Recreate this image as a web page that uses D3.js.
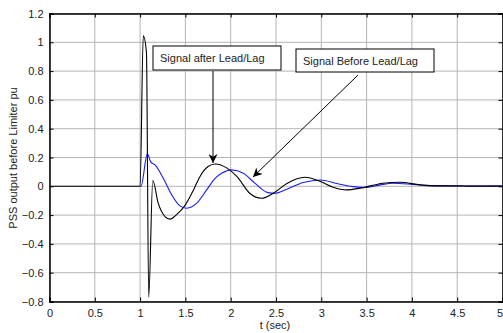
<!DOCTYPE html>
<html>
<head>
<meta charset="utf-8">
<script src="https://cdn.jsdelivr.net/npm/d3@7"></script>
<style>
  body { margin: 0; background: #fff; }
  text { font-family: "Liberation Sans", Arial, sans-serif; }
</style>
</head>
<body>
<svg id="chart"></svg>
<script>
// donnees
const tAfter = [0, 0.5, 1.0, 1.035, 1.07, 1.095, 1.14, 1.2, 1.275, 1.33, 1.4, 1.5, 1.59, 1.66, 1.75, 1.83, 1.96, 2.07, 2.21, 2.34, 2.47, 2.62, 2.82, 2.99, 3.13, 3.28, 3.43, 3.68, 3.87, 4.09, 4.31, 4.55, 4.6, 5.0];
const vAfter = [0, 0, 0, 1.045, 0.93, -0.77, 0.04, -0.117, -0.21, -0.228, -0.198, -0.129, -0.025, 0.067, 0.137, 0.155, 0.126, 0.067, -0.048, -0.083, -0.048, 0.02, 0.063, 0.033, -0.006, -0.025, -0.013, 0.021, 0.028, 0.01, 0.003, 0.003, 0.001, 0.001];

const tBefore = [1.0, 1.01, 1.08, 1.117, 1.165, 1.256, 1.35, 1.44, 1.515, 1.625, 1.735, 1.83, 1.9, 2.01, 2.14, 2.27, 2.41, 2.49, 2.62, 2.8, 2.99, 3.17, 3.35, 3.5, 3.65, 3.79, 3.98, 4.16, 4.35, 4.6, 5.0];
const vBefore = [0, 0, 0.225, 0.17, 0.148, 0.056, -0.06, -0.136, -0.152, -0.117, -0.025, 0.056, 0.09, 0.114, 0.09, 0.02, -0.044, -0.048, -0.02, 0.026, 0.044, 0.02, -0.002, -0.008, 0.01, 0.021, 0.015, 0.005, 0.003, 0.002, 0.001];

const xTicks = [0, 0.5, 1, 1.5, 2, 2.5, 3, 3.5, 4, 4.5, 5];
const yTicks = [-0.8, -0.6, -0.4, -0.2, 0, 0.2, 0.4, 0.6, 0.8, 1, 1.2];

const width = 503, height = 333;
const svg = d3.select("#chart").attr("width", width).attr("height", height);

const x = d3.scaleLinear().domain([0, 5]).range([49.5, 502.5]);
const y = d3.scaleLinear().domain([-0.8, 1.2]).range([301.5, 13.5]);

// grille
svg.append("g").selectAll("line").data(xTicks).join("line")
    .attr("x1", d => x(d)).attr("x2", d => x(d))
    .attr("y1", y(1.2)).attr("y2", y(-0.8))
    .attr("stroke", "#b4b4b4").attr("stroke-width", 1);
svg.append("g").selectAll("line").data(yTicks).join("line")
    .attr("x1", x(0)).attr("x2", x(5))
    .attr("y1", d => y(d)).attr("y2", d => y(d))
    .attr("stroke", "#b4b4b4").attr("stroke-width", 1);

// axes
const xAxis = svg.append("g").attr("transform", `translate(0,${y(-0.8)})`)
    .call(d3.axisBottom(x).tickValues(xTicks).tickSize(-4).tickPadding(8).tickFormat(d3.format("")));
const xTop = svg.append("g").attr("transform", `translate(0,${y(1.2)})`)
    .call(d3.axisTop(x).tickValues(xTicks).tickSize(-4).tickFormat(""));
const yAxis = svg.append("g").attr("transform", `translate(${x(0)},0)`)
    .call(d3.axisLeft(y).tickValues(yTicks).tickSize(-4).tickPadding(6).tickFormat(d3.format("")));
const yRight = svg.append("g").attr("transform", `translate(${x(5)},0)`)
    .call(d3.axisRight(y).tickValues(yTicks).tickSize(-4).tickFormat(""));

[xAxis, xTop, yAxis, yRight].forEach(g => {
    g.select(".domain").attr("stroke", "#000").attr("stroke-width", 1.5);
    g.selectAll(".tick line").attr("stroke", "#000");
    g.selectAll(".tick text").attr("font-size", 11).attr("fill", "#222")
        .style("font-family", "'Liberation Sans', Arial, sans-serif");
});
// le "5" tient dans la fenetre
xAxis.selectAll(".tick text").filter(d => d === 5).attr("text-anchor", "end").attr("dx", "0");

// courbes
const line = d3.line().x(d => x(d[0])).y(d => y(d[1])).curve(d3.curveMonotoneX);
svg.append("path")
    .datum(tBefore.map((t, i) => [t, vBefore[i]]))
    .attr("d", line).attr("fill", "none").attr("stroke", "#1a1aff").attr("stroke-width", 1.1);
svg.append("path")
    .datum(tAfter.map((t, i) => [t, vAfter[i]]))
    .attr("d", line).attr("fill", "none").attr("stroke", "#000").attr("stroke-width", 1.1);

// fleches
svg.append("defs").append("marker")
    .attr("id", "arrow").attr("viewBox", "0 0 10 10")
    .attr("refX", 10).attr("refY", 5)
    .attr("markerWidth", 9).attr("markerHeight", 9).attr("orient", "auto")
    .append("path").attr("d", "M0,0 L10,5 L0,10 L3,5 Z").attr("fill", "#000");

svg.append("line").attr("x1", 213).attr("y1", 71).attr("x2", 213).attr("y2", 163)
    .attr("stroke", "#000").attr("marker-end", "url(#arrow)");
svg.append("line").attr("x1", 358).attr("y1", 75).attr("x2", 253).attr("y2", 177)
    .attr("stroke", "#000").attr("marker-end", "url(#arrow)");

// boites de texte
const boxes = [
    { label: "Signal after Lead/Lag", x0: 153, y0: 46, w: 128, h: 24 },
    { label: "Signal Before Lead/Lag", x0: 296, y0: 49, w: 138, h: 23 }
];
boxes.forEach(b => {
    svg.append("rect").attr("x", b.x0).attr("y", b.y0).attr("width", b.w).attr("height", b.h)
        .attr("fill", "#fff").attr("stroke", "#000").attr("stroke-width", 1);
    svg.append("text").attr("x", b.x0 + 7).attr("y", b.y0 + b.h / 2 + 4)
        .attr("font-size", 11).attr("fill", "#222").text(b.label);
});

// titres des axes
svg.append("text").attr("x", 275).attr("y", 329).attr("text-anchor", "middle")
    .attr("font-size", 11).attr("fill", "#222").text("t (sec)");
svg.append("text").attr("transform", "translate(17,158) rotate(-90)")
    .attr("text-anchor", "middle").attr("font-size", 11).attr("fill", "#222")
    .text("PSS output before Limiter  pu");
</script>
</body>
</html>
